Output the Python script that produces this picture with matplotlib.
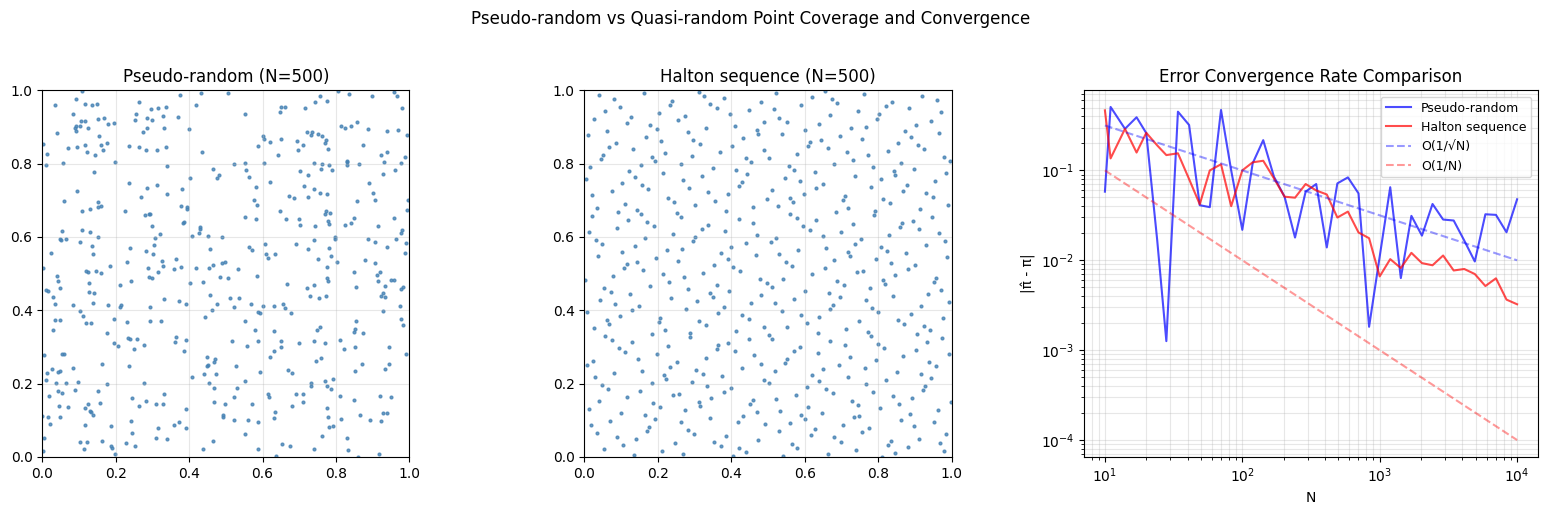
import matplotlib
matplotlib.use("Agg")
import matplotlib.pyplot as plt
import numpy as np

# ---------------- data ----------------
# Pseudo-random points (x, y)
pseudo_pts = [
(0.107,0.998),(0.433,0.993),(0.376,0.988),(0.093,0.976),(0.035,0.960),(0.117,0.962),(0.136,0.960),(0.150,0.962),
(0.264,0.968),(0.420,0.960),(0.297,0.949),(0.316,0.952),(0.338,0.955),(0.084,0.936),(0.256,0.935),(0.330,0.930),
(0.371,0.927),(0.286,0.925),(0.300,0.919),(0.253,0.919),(0.106,0.916),(0.117,0.916),(0.153,0.922),(0.169,0.924),
(0.180,0.908),(0.196,0.911),(0.093,0.902),(0.103,0.902),(0.089,0.896),(0.093,0.889),(0.125,0.896),(0.284,0.897),
(0.332,0.896),(0.400,0.895),(0.275,0.886),(0.041,0.883),(0.155,0.876),(0.003,0.853),(0.117,0.850),(0.161,0.850),
(0.177,0.856),(0.071,0.842),(0.095,0.845),(0.166,0.837),(0.237,0.847),(0.264,0.845),(0.283,0.837),(0.313,0.837),
(0.338,0.845),(0.123,0.831),(0.144,0.823),(0.014,0.826),(0.436,0.831),(0.011,0.796),(0.057,0.801),(0.199,0.804),
(0.341,0.793),(0.466,0.785),(0.142,0.777),(0.482,0.769),(0.477,0.760),(0.402,0.760),(0.237,0.747),(0.095,0.725),
(0.286,0.733),(0.313,0.741),(0.381,0.730),(0.341,0.717),(0.270,0.708),(0.060,0.698),(0.153,0.695),(0.153,0.681),
(0.161,0.684),(0.131,0.676),(0.109,0.670),(0.226,0.670),(0.378,0.684),(0.394,0.681),(0.394,0.676),(0.281,0.659),
(0.292,0.662),(0.294,0.663),(0.384,0.639),(0.387,0.641),(0.300,0.629),(0.431,0.626),(0.431,0.623),(0.054,0.616),
(0.109,0.619),(0.131,0.613),(0.428,0.610),(0.321,0.608),(0.409,0.602),(0.452,0.602),(0.490,0.599),(0.049,0.594),
(0.052,0.591),(0.065,0.594),(0.153,0.599),(0.308,0.597),(0.104,0.586),(0.305,0.578),(0.136,0.575),(0.240,0.569),
(0.458,0.567),(0.283,0.561),(0.025,0.556),(0.139,0.553),(0.302,0.553),(0.365,0.540),(0.327,0.534),(0.232,0.531),
(0.490,0.529),(0.499,0.531),(0.466,0.524),(0.185,0.520),(0.330,0.520),(0.003,0.515),(0.289,0.515),(0.360,0.512),
(0.379,0.517),(0.420,0.515),(0.455,0.515),(0.120,0.507),(0.125,0.504),(0.147,0.507),(0.161,0.501),(0.316,0.504),
(0.507,0.993),(0.807,0.998),(0.837,0.990),(0.957,0.995),(0.967,0.985),(0.899,0.985),(0.758,0.985),(0.744,0.968),
(0.777,0.971),(0.553,0.936),(0.649,0.941),(0.651,0.955),(0.662,0.955),(0.717,0.952),(0.981,0.952),(0.858,0.914),
(0.815,0.903),(0.826,0.897),(0.842,0.903),(0.888,0.895),(0.940,0.889),(0.970,0.892),(0.720,0.886),(0.736,0.886),
(0.733,0.878),(0.752,0.881),(0.763,0.876),(0.774,0.865),(0.771,0.856),(0.779,0.840),(0.600,0.876),(0.605,0.867),
(0.651,0.867),(0.621,0.859),(0.695,0.862),(0.709,0.851),(0.698,0.837),(0.589,0.848),(0.995,0.878),(0.875,0.851),
(0.940,0.832),(0.643,0.824),(0.924,0.824),(0.987,0.818),(0.521,0.798),(0.553,0.801),(0.605,0.801),(0.739,0.801),
(0.763,0.798),(0.782,0.796),(0.829,0.807),(0.831,0.804),(0.829,0.796),(0.864,0.798),(0.932,0.804),(0.978,0.801),
(0.556,0.782),(0.760,0.785),(0.790,0.782),(0.703,0.779),(0.962,0.782),(0.564,0.763),(0.725,0.768),(0.927,0.771),
(0.621,0.749),(0.891,0.747),(0.583,0.736),(0.714,0.738),(0.741,0.730),(0.758,0.719),(0.777,0.717),(0.902,0.719),
(0.673,0.711),(0.687,0.705),(0.725,0.708),(0.578,0.700),(0.586,0.687),(0.858,0.698),(0.907,0.700),(0.997,0.700),
(0.995,0.673),(0.649,0.670),(0.774,0.670),(0.771,0.662),(0.785,0.665),(0.553,0.654),(0.583,0.649),(0.665,0.649),
(0.700,0.649),(0.848,0.651),(0.959,0.651),(0.779,0.643),(0.782,0.635),(0.842,0.638),(0.703,0.632),(0.744,0.629),
(0.826,0.632),(0.916,0.629),(0.981,0.619),(0.978,0.610),(0.798,0.599),(0.798,0.594),(0.888,0.594),(0.965,0.594),
(0.741,0.591),(0.907,0.586),(0.992,0.583),(0.692,0.580),(0.608,0.580),(0.564,0.572),(0.572,0.564),(0.782,0.569),
(0.725,0.566),(0.938,0.572),(0.610,0.553),(0.635,0.553),(0.788,0.548),(0.989,0.556),(0.616,0.542),(0.752,0.540),
(0.880,0.537),(0.804,0.531),(0.907,0.529),(0.534,0.512),(0.777,0.518),(0.850,0.504),(0.921,0.504),
(0.041,0.494),(0.292,0.491),(0.300,0.489),(0.485,0.491),(0.044,0.480),(0.243,0.480),(0.403,0.475),(0.439,0.478),
(0.128,0.475),(0.213,0.470),(0.049,0.461),(0.010,0.456),(0.015,0.453),(0.128,0.450),(0.142,0.448),(0.458,0.442),
(0.030,0.437),(0.332,0.431),(0.373,0.426),(0.035,0.418),(0.084,0.415),(0.139,0.420),(0.180,0.415),(0.213,0.410),
(0.215,0.414),(0.294,0.410),(0.392,0.418),(0.477,0.418),(0.463,0.401),(0.104,0.399),(0.112,0.385),(0.035,0.374),
(0.049,0.374),(0.196,0.377),(0.120,0.366),(0.133,0.366),(0.232,0.369),(0.294,0.371),(0.324,0.371),(0.444,0.382),
(0.030,0.347),(0.177,0.339),(0.365,0.328),(0.362,0.314),(0.392,0.319),(0.234,0.324),(0.240,0.321),(0.259,0.321),
(0.196,0.312),(0.207,0.302),(0.278,0.305),(0.251,0.294),(0.387,0.289),(0.005,0.278),(0.054,0.281),(0.058,0.281),
(0.450,0.272),(0.471,0.267),(0.469,0.259),(0.450,0.248),(0.452,0.251),(0.163,0.253),(0.237,0.248),(0.027,0.240),
(0.084,0.242),(0.014,0.229),(0.044,0.232),(0.049,0.234),(0.441,0.226),(0.474,0.226),(0.409,0.218),(0.011,0.210),
(0.038,0.202),(0.065,0.202),(0.098,0.204),(0.177,0.199),(0.278,0.202),(0.455,0.202),(0.469,0.188),(0.044,0.180),
(0.054,0.174),(0.090,0.183),(0.153,0.180),(0.019,0.166),(0.332,0.172),(0.245,0.161),(0.283,0.153),(0.158,0.147),
(0.311,0.144),(0.330,0.144),(0.469,0.150),(0.499,0.144),(0.046,0.139),(0.071,0.136),(0.264,0.139),(0.117,0.133),
(0.125,0.144),(0.392,0.131),(0.131,0.125),(0.133,0.123),(0.139,0.114),(0.493,0.114),(0.493,0.109),(0.000,0.112),
(0.016,0.109),(0.049,0.109),(0.243,0.098),(0.373,0.095),(0.022,0.090),(0.117,0.087),(0.188,0.084),(0.360,0.087),
(0.316,0.079),(0.392,0.079),(0.245,0.065),(0.005,0.052),(0.311,0.052),(0.340,0.049),(0.104,0.041),(0.123,0.041),
(0.163,0.044),(0.229,0.038),(0.466,0.044),(0.188,0.030),(0.191,0.025),(0.253,0.030),(0.114,0.022),(0.439,0.022),
(0.003,0.016),(0.199,0.008),
(0.507,0.489),(0.586,0.494),(0.913,0.497),(0.916,0.481),(0.951,0.483),(0.957,0.483),(0.777,0.489),(0.779,0.480),
(0.668,0.472),(0.741,0.470),(0.722,0.461),(0.856,0.464),(0.935,0.467),(0.984,0.464),(0.978,0.459),(0.927,0.448),
(0.924,0.440),(0.935,0.437),(0.730,0.440),(0.755,0.434),(0.774,0.440),(0.512,0.434),(0.537,0.434),(0.521,0.410),
(0.570,0.418),(0.602,0.412),(0.632,0.412),(0.657,0.418),(0.662,0.407),(0.976,0.412),(0.589,0.396),(0.594,0.393),
(0.679,0.393),(0.927,0.399),(0.978,0.377),(0.553,0.371),(0.856,0.371),(0.984,0.361),(0.758,0.355),(0.749,0.347),
(0.853,0.350),(0.850,0.341),(0.875,0.339),(0.580,0.347),(0.632,0.344),(0.518,0.317),(0.589,0.317),(0.651,0.317),
(0.700,0.312),(0.739,0.317),(0.771,0.312),(0.812,0.320),(0.559,0.303),(0.651,0.301),(0.823,0.295),(0.853,0.301),
(0.946,0.301),(0.632,0.290),(0.992,0.281),(0.621,0.272),(0.760,0.271),(0.747,0.262),(0.872,0.253),(0.946,0.253),
(0.529,0.248),(0.935,0.240),(0.670,0.237),(0.681,0.229),(0.853,0.234),(0.594,0.232),(0.553,0.207),(0.771,0.207),
(0.793,0.213),(0.733,0.202),(0.733,0.193),(0.777,0.193),(0.788,0.185),(0.531,0.188),(0.616,0.172),(0.619,0.164),
(0.692,0.172),(0.709,0.172),(0.523,0.164),(0.812,0.166),(0.921,0.166),(0.951,0.164),(0.850,0.155),(0.711,0.150),
(0.572,0.144),(0.681,0.139),(0.777,0.134),(0.635,0.123),(0.929,0.120),(0.940,0.120),(0.867,0.114),(0.632,0.106),
(0.779,0.109),(0.523,0.101),(0.561,0.101),(0.589,0.095),(0.815,0.103),(0.894,0.101),(0.924,0.098),(0.793,0.084),
(0.782,0.082),(0.553,0.063),(0.763,0.057),(0.831,0.052),(0.654,0.035),(0.676,0.030),(0.589,0.022),(0.741,0.022),
(0.834,0.019),(0.638,0.003),(0.861,0.000),(0.918,0.008),
]

# Halton sequence points (x, y)
halton_pts = [
(0.041,0.987),(0.082,0.976),(0.163,0.993),(0.311,0.995),(0.327,0.985),(0.379,0.979),(0.240,0.971),(0.234,0.960),
(0.343,0.962),(0.362,0.952),(0.480,0.968),(0.098,0.955),(0.057,0.944),(0.449,0.946),(0.204,0.938),(0.397,0.935),
(0.128,0.927),(0.275,0.930),(0.027,0.922),(0.256,0.919),(0.117,0.911),(0.488,0.914),(0.180,0.906),(0.409,0.903),
(0.199,0.895),(0.332,0.897),(0.063,0.889),(0.281,0.886),(0.469,0.892),(0.474,0.881),(0.011,0.878),(0.169,0.873),
(0.433,0.870),(0.210,0.862),(0.297,0.865),(0.087,0.856),(0.316,0.854),(0.068,0.846),(0.403,0.848),(0.133,0.840),
(0.490,0.837),(0.368,0.832),(0.221,0.829),(0.052,0.824),(0.046,0.813),(0.185,0.818),(0.193,0.807),(0.292,0.821),
(0.439,0.816),(0.455,0.805),(0.262,0.799),(0.153,0.796),(0.016,0.791),(0.351,0.788),(0.414,0.783),(0.122,0.780),
(0.215,0.775),(0.444,0.772),(0.321,0.767),(0.139,0.764),(0.005,0.758),(0.270,0.755),(0.428,0.750),(0.420,0.739),
(0.103,0.748),(0.158,0.742),(0.286,0.734),(0.174,0.731),(0.076,0.726),(0.338,0.724),(0.392,0.718),(0.022,0.715),
(0.229,0.707),(0.496,0.704),(0.245,0.696),(0.357,0.698),(0.112,0.690),(0.302,0.688),(0.460,0.682),(0.035,0.679),
(0.144,0.674),(0.387,0.671),(0.093,0.668),(0.155,0.662),(0.251,0.665),(0.022,0.657),(0.262,0.655),(0.420,0.649),
(0.120,0.647),(0.172,0.641),(0.460,0.638),(0.338,0.633),(0.191,0.630),(0.090,0.625),(0.319,0.622),(0.014,0.614),
(0.384,0.617),(0.242,0.609),(0.471,0.606),(0.302,0.600),(0.166,0.597),(0.033,0.592),(0.297,0.589),(0.049,0.582),
(0.441,0.584),(0.139,0.576),(0.400,0.573),(0.226,0.565),(0.267,0.568),(0.103,0.559),(0.373,0.557),(0.466,0.551),
(0.038,0.549),(0.196,0.543),(0.390,0.540),(0.144,0.532),(0.256,0.535),(0.115,0.527),(0.109,0.516),(0.354,0.524),
(0.406,0.519),(0.161,0.510),(0.425,0.508),(0.324,0.502),(0.213,0.500),
(0.521,0.993),(0.654,0.998),(0.619,0.982),(0.673,0.976),(0.689,0.965),(0.760,0.990),(0.837,0.968),(0.820,0.957),
(0.918,0.985),(0.959,0.974),(0.591,0.960),(0.515,0.949),(0.883,0.952),(0.970,0.941),(0.744,0.944),(0.801,0.936),
(0.796,0.922),(0.668,0.933),(0.531,0.925),(0.551,0.914),(0.943,0.916),(0.638,0.908),(0.902,0.906),(0.766,0.900),
(0.725,0.897),(0.602,0.892),(0.872,0.889),(0.965,0.884),(0.537,0.881),(0.695,0.876),(0.888,0.873),(0.755,0.867),
(0.643,0.865),(0.613,0.858),(0.608,0.848),(0.853,0.856),(0.907,0.851),(0.662,0.843),(0.924,0.840),(0.826,0.835),
(0.714,0.832),(0.578,0.827),(0.771,0.824),(0.504,0.816),(0.978,0.818),(0.730,0.810),(0.995,0.807),(0.861,0.802),
(0.679,0.799),(0.556,0.794),(0.785,0.791),(0.572,0.783),(0.842,0.780),(0.847,0.769),(0.897,0.786),(0.627,0.777),
(0.984,0.775),(0.736,0.767),(0.545,0.761),(0.807,0.758),(0.954,0.753),(0.586,0.752),(0.649,0.745),(0.632,0.734),
(0.877,0.742),(0.779,0.737),(0.510,0.728),(0.867,0.726),(0.597,0.718),(0.929,0.720),(0.709,0.712),(0.703,0.701),
(0.948,0.709),(0.561,0.707),(0.567,0.696),(0.812,0.704),(0.831,0.693),(0.989,0.688),(0.526,0.685),(0.719,0.680),
(0.913,0.677),(0.790,0.671),(0.788,0.660),(0.684,0.668),(0.559,0.663),(0.946,0.655),(0.578,0.652),(0.630,0.647),
(0.894,0.644),(0.864,0.639),(0.858,0.628),(0.730,0.636),(0.594,0.630),(0.613,0.619),(0.910,0.622),(0.700,0.614),
(0.965,0.611),(0.828,0.606),(0.649,0.604),(0.523,0.598),(0.752,0.595),(0.507,0.587),(0.981,0.589),(0.736,0.581),
(0.929,0.578),(0.807,0.573),(0.659,0.570),(0.583,0.565),(0.823,0.562),(0.717,0.559),(0.722,0.549),(0.875,0.557),
(0.531,0.554),(0.986,0.546),(0.793,0.540),(0.681,0.538),(0.548,0.532),(0.834,0.530),(0.899,0.524),(0.564,0.521),
(0.654,0.516),(0.880,0.513),(0.741,0.505),(0.758,0.508),(0.619,0.500),
(0.003,0.483),(0.079,0.494),(0.272,0.491),(0.231,0.478),(0.360,0.470),(0.477,0.486),(0.496,0.475),(0.054,0.461),
(0.180,0.467),(0.283,0.459),(0.395,0.453),(0.074,0.450),(0.125,0.445),(0.343,0.448),(0.349,0.437),(0.481,0.442),
(0.237,0.434),(0.044,0.429),(0.308,0.426),(0.084,0.418),(0.150,0.412),(0.455,0.420),(0.379,0.410),(0.131,0.401),
(0.278,0.404),(0.008,0.396),(0.365,0.393),(0.430,0.388),(0.098,0.385),(0.207,0.380),(0.202,0.369),(0.447,0.377),
(0.313,0.371),(0.063,0.374),(0.068,0.363),(0.330,0.361),(0.490,0.355),(0.027,0.352),(0.221,0.347),(0.414,0.344),
(0.289,0.339),(0.289,0.328),(0.185,0.336),(0.057,0.331),(0.447,0.322),(0.076,0.319),(0.131,0.314),(0.392,0.311),
(0.365,0.305),(0.360,0.294),(0.229,0.302),(0.095,0.297),(0.112,0.286),(0.411,0.289),(0.199,0.281),(0.463,0.278),
(0.330,0.270),(0.147,0.267),(0.024,0.262),(0.253,0.259),(0.008,0.251),(0.482,0.253),(0.234,0.245),(0.428,0.242),
(0.305,0.237),(0.158,0.234),(0.082,0.229),(0.324,0.226),(0.218,0.223),(0.223,0.212),(0.030,0.218),(0.376,0.221),
(0.488,0.210),(0.183,0.202),(0.294,0.204),(0.049,0.196),(0.335,0.193),(0.400,0.188),(0.065,0.185),(0.152,0.180),
(0.381,0.177),(0.242,0.169),(0.259,0.172),(0.117,0.163),(0.346,0.161),(0.041,0.153),(0.311,0.150),(0.316,0.139),
(0.458,0.155),(0.452,0.144),(0.188,0.147),(0.207,0.136),(0.014,0.131),(0.275,0.128),(0.469,0.123),(0.101,0.120),
(0.166,0.114),(0.433,0.112),(0.341,0.106),(0.193,0.104),(0.071,0.098),(0.264,0.095),(0.417,0.095),(0.019,0.087),
(0.493,0.090),(0.177,0.082),(0.172,0.071),(0.283,0.074),(0.035,0.065),(0.299,0.063),(0.387,0.057),(0.090,0.054),
(0.142,0.049),(0.474,0.046),(0.352,0.041),(0.248,0.038),(0.106,0.033),(0.371,0.030),(0.422,0.025),(0.054,0.022),
(0.212,0.016),(0.441,0.014),(0.270,0.008),(0.136,0.005),(0.406,0.003),
(0.847,0.496),(0.542,0.486),(0.512,0.464),(0.689,0.480),(0.706,0.470),(0.812,0.483),(0.818,0.472),(0.956,0.489),
(0.951,0.478),(0.600,0.453),(0.777,0.461),(0.970,0.456),(0.665,0.448),(0.935,0.445),(0.839,0.440),(0.695,0.437),
(0.572,0.431),(0.766,0.429),(0.518,0.420),(0.992,0.423),(0.676,0.415),(0.670,0.404),(0.916,0.412),(0.782,0.407),
(0.537,0.399),(0.799,0.396),(0.888,0.391),(0.589,0.388),(0.976,0.380),(0.640,0.382),(0.853,0.374),(0.747,0.371),
(0.605,0.366),(0.869,0.363),(0.553,0.355),(0.924,0.358),(0.711,0.350),(0.940,0.347),(0.771,0.341),(0.779,0.331),
(0.635,0.339),(0.905,0.336),(0.502,0.333),(0.510,0.322),(0.973,0.325),(0.668,0.317),(0.932,0.314),(0.799,0.309),
(0.709,0.306),(0.586,0.301),(0.815,0.298),(0.902,0.292),(0.570,0.290),(0.635,0.284),(0.992,0.282),(0.867,0.276),
(0.722,0.273),(0.551,0.268),(0.545,0.257),(0.793,0.265),(0.937,0.260),(0.692,0.252),(0.956,0.249),(0.651,0.241),
(0.763,0.243),(0.518,0.235),(0.850,0.232),(0.621,0.224),(0.916,0.227),(0.717,0.219),(0.943,0.216),(0.504,0.202),
(0.640,0.208),(0.820,0.211),(0.768,0.199),(0.605,0.192),(0.926,0.194),(0.921,0.183),(0.657,0.186),(0.785,0.178),
(0.676,0.175),(0.575,0.170),(0.839,0.167),(0.891,0.162),(0.523,0.159),(0.728,0.153),(0.997,0.151),(0.856,0.145),
(0.744,0.143),(0.610,0.137),(0.804,0.134),(0.962,0.129),(0.534,0.126),(0.646,0.121),(0.591,0.115),(0.600,0.104),
(0.886,0.118),(0.733,0.110),(0.749,0.113),(0.861,0.102),(0.559,0.094),(0.951,0.096),(0.703,0.088),(0.897,0.085),
(0.774,0.080),(0.627,0.077),(0.529,0.072),(0.757,0.069),(0.616,0.061),(0.984,0.064),(0.681,0.055),(0.910,0.050),
(0.834,0.044),(0.826,0.034),(0.698,0.042),(0.564,0.036),(0.967,0.039),(0.580,0.025),(0.880,0.028),(0.739,0.020),
(0.978,0.017),(0.662,0.009),(0.845,0.012),(0.540,0.004),(0.809,0.001),
]

pseudo_x = [p[0] for p in pseudo_pts]
pseudo_y = [p[1] for p in pseudo_pts]
halton_x = [p[0] for p in halton_pts]
halton_y = [p[1] for p in halton_pts]

# Convergence data
N_values = [10, 11, 14, 17, 20, 24, 28, 34, 41, 49, 58, 70, 83, 100, 119, 142, 170, 203, 242, 289,
            345, 412, 492, 587, 701, 837, 1000, 1193, 1425, 1701, 2030, 2424, 2894, 3455, 4124, 4923,
            5878, 7017, 8376, 10000]
err_pseudo = [0.058, 0.508, 0.29, 0.39, 0.26, 0.017, 0.00126, 0.45, 0.32, 0.041, 0.039, 0.47, 0.10,
              0.0218, 0.12, 0.217, 0.085, 0.051, 0.0179, 0.058, 0.0705, 0.0139, 0.0717, 0.0836, 0.0555,
              0.00182, 0.011, 0.065, 0.00634, 0.0312, 0.0188, 0.0423, 0.0284, 0.0277, 0.0166, 0.0097,
              0.0325, 0.032, 0.0205, 0.0477]
err_halton = [0.466, 0.136, 0.29, 0.158, 0.262, 0.19, 0.148, 0.155, 0.08, 0.042, 0.10, 0.117, 0.040,
              0.10, 0.123, 0.128, 0.0815, 0.051, 0.0497, 0.0705, 0.0598, 0.054, 0.0299, 0.0348, 0.0204,
              0.0176, 0.00662, 0.0103, 0.0082, 0.0121, 0.0093, 0.0088, 0.0113, 0.0077, 0.0080, 0.00703,
              0.00517, 0.0063, 0.00365, 0.00324]
ref_N = [10, 10000]
ref_sqrt = [0.3162, 0.01]
ref_lin = [0.1, 0.0001]

# ---------------- plotting ----------------
W, H = 1546, 515
fig = plt.figure(figsize=(W / 100, H / 100), dpi=100)

def ax_rect(x0, y0, x1, y1):
    return [x0 / W, 1 - y1 / H, (x1 - x0) / W, (y1 - y0) / H]

ax1 = fig.add_axes(ax_rect(42.3, 90.3, 409.3, 457))
ax2 = fig.add_axes(ax_rect(584.3, 90.3, 951.7, 457))
ax3 = fig.add_axes(ax_rect(1084.3, 90.3, 1537.7, 456.7))

dot_kw = dict(s=4, alpha=0.8, color='steelblue')
for ax, xs, ys, title in [(ax1, pseudo_x, pseudo_y, 'Pseudo-random (N=500)'),
                          (ax2, halton_x, halton_y, 'Halton sequence (N=500)')]:
    ax.scatter(xs, ys, **dot_kw)
    ax.set_xlim(0, 1)
    ax.set_ylim(0, 1)
    ax.set_title(title)
    ax.grid(True, alpha=0.3)

ax3.loglog(N_values, err_pseudo, 'b-', alpha=0.7, linewidth=1.5, label='Pseudo-random')
ax3.loglog(N_values, err_halton, 'r-', alpha=0.7, linewidth=1.5, label='Halton sequence')
ax3.loglog(ref_N, ref_sqrt, 'b--', alpha=0.4, label='O(1/√N)')
ax3.loglog(ref_N, ref_lin, 'r--', alpha=0.4, label='O(1/N)')
ax3.set_xlabel('N')
ax3.set_ylabel('|π̂ - π|')
ax3.set_title('Error Convergence Rate Comparison')
ax3.legend(fontsize=9)
ax3.grid(True, which='both', alpha=0.3)

fig.suptitle('Pseudo-random vs Quasi-random Point Coverage and Convergence', x=751 / W, y=0.98)

fig.savefig('out.png', dpi=100)
